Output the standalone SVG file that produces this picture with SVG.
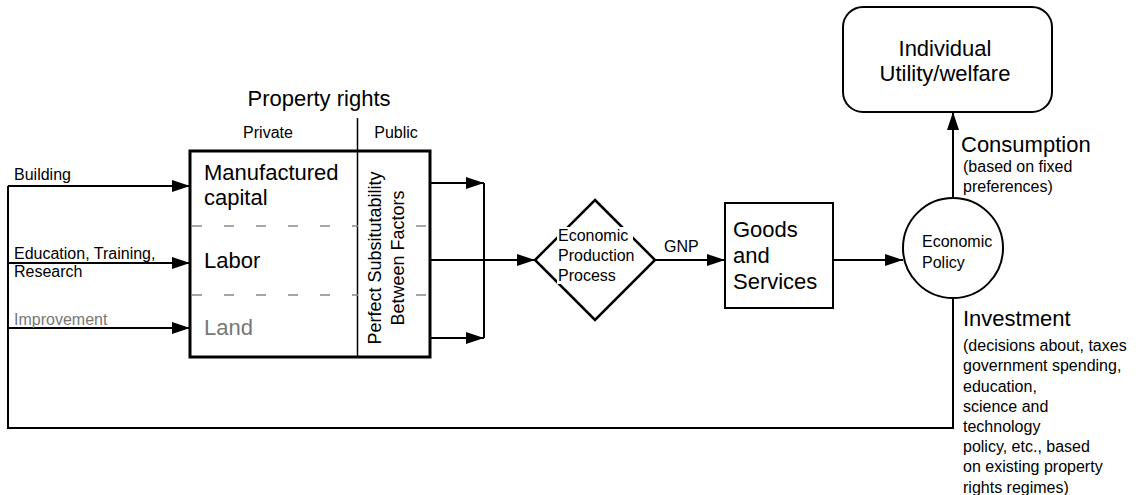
<svg xmlns="http://www.w3.org/2000/svg" width="1139" height="495" viewBox="0 0 1139 495">
<style>
text{font-family:"Liberation Sans",Arial,sans-serif;fill:#000}
.s{font-size:16px}
.m{font-size:16px}
.l{font-size:22px}
.g{fill:#777}
.ln{stroke:#000;stroke-width:2;fill:none}
.dash{stroke:#888;stroke-width:1.5;stroke-dasharray:10 22;fill:none}
</style>
<defs>
<marker id="ah" viewBox="0 0 18 12" refX="18" refY="6" markerWidth="18" markerHeight="12" markerUnits="userSpaceOnUse" orient="auto">
<path d="M0,0 L18,6 L0,12 Z" fill="#000"/>
</marker>
</defs>
<g id="connectors">
<path class="ln" d="M8,186 L8,428 L953,428 L953,298"/>
<path class="ln" d="M8,186 L190,186" marker-end="url(#ah)"/>
<path class="ln" d="M8,263 L190,263" marker-end="url(#ah)"/>
<path class="ln" d="M8,328 L190,328" marker-end="url(#ah)"/>
<path class="ln" d="M430,183 L484,183" marker-end="url(#ah)"/>
<path class="ln" d="M430,338 L484,338" marker-end="url(#ah)"/>
<path class="ln" d="M484,183 L484,338"/>
<path class="ln" d="M430,260 L535,260" marker-end="url(#ah)"/>
<path class="ln" d="M655,260 L725,260" marker-end="url(#ah)"/>
<path class="ln" d="M833,260 L903,260" marker-end="url(#ah)"/>
<path class="ln" d="M953,198 L953,112" marker-end="url(#ah)"/>
<text class="s" x="664" y="252">GNP</text>
<text class="s" x="14" y="180">Building</text>
<text class="s" x="14" y="259">Education, Training,</text>
<text class="s" x="14" y="277">Research</text>
<text class="s g" x="14" y="325">Improvement</text>
<text class="l" x="961" y="152">Consumption</text>
<text class="s" x="963" y="172">(based on fixed</text>
<text class="s" x="963" y="192">preferences)</text>
<text class="l" x="963" y="326">Investment</text>
<text class="s" x="963" y="351">(decisions about, taxes</text>
<text class="s" x="963" y="371">government spending,</text>
<text class="s" x="963" y="392">education,</text>
<text class="s" x="963" y="412">science and</text>
<text class="s" x="963" y="432">technology</text>
<text class="s" x="963" y="452">policy, etc., based</text>
<text class="s" x="963" y="472">on existing property</text>
<text class="s" x="963" y="493">rights regimes)</text>
</g>
<g id="property-rights">
<text class="l" x="319" y="106" text-anchor="middle">Property rights</text>
<text class="s" x="268" y="138" text-anchor="middle">Private</text>
<text class="s" x="396" y="138" text-anchor="middle">Public</text>
<line x1="357.5" y1="118" x2="357.5" y2="151" stroke="#000" stroke-width="1.5"/>
</g>
<g id="factors">
<rect x="190" y="151" width="240" height="206" fill="none" stroke="#000" stroke-width="3"/>
<line x1="357.5" y1="151" x2="357.5" y2="357" stroke="#000" stroke-width="1.5"/>
<path class="dash" d="M192,226 L358,226 M416,226 L428,226 M192,295 L358,295 M416,295 L428,295"/>
<text class="l" x="204" y="180">Manufactured</text>
<text class="l" x="204" y="205">capital</text>
<text class="l" x="204" y="268">Labor</text>
<text class="l g" x="204" y="335">Land</text>
<text font-size="18" text-anchor="middle" transform="translate(381,258) rotate(-90)">Perfect Subsitutability</text>
<text font-size="18" text-anchor="middle" transform="translate(404,258) rotate(-90)">Between Factors</text>
</g>
<g id="production">
<path d="M595,200 L655,260 L595,320 L535,260 Z" fill="none" stroke="#000" stroke-width="2.5"/>
<rect x="557" y="227" width="76" height="17" fill="#fff"/>
<rect x="557" y="247" width="82" height="17" fill="#fff"/>
<rect x="557" y="267" width="66" height="17" fill="#fff"/>
<text class="m" x="558" y="241">Economic</text>
<text class="m" x="558" y="261">Production</text>
<text class="m" x="558" y="281">Process</text>
</g>
<g id="goods">
<rect x="725" y="203" width="108" height="105" fill="#fff" stroke="#000" stroke-width="2"/>
<text class="l" x="733" y="237">Goods</text>
<text class="l" x="733" y="263">and</text>
<text class="l" x="733" y="289">Services</text>
</g>
<g id="policy">
<circle cx="953" cy="248" r="50" fill="#fff" stroke="#000" stroke-width="2"/>
<text class="s" x="922" y="247">Economic</text>
<text class="s" x="922" y="268">Policy</text>
</g>
<g id="utility">
<rect x="843" y="7" width="209" height="105" rx="20" fill="#fff" stroke="#000" stroke-width="2"/>
<text class="l" x="945" y="56" text-anchor="middle">Individual</text>
<text class="l" x="945" y="81" text-anchor="middle">Utility/welfare</text>
</g>
</svg>
